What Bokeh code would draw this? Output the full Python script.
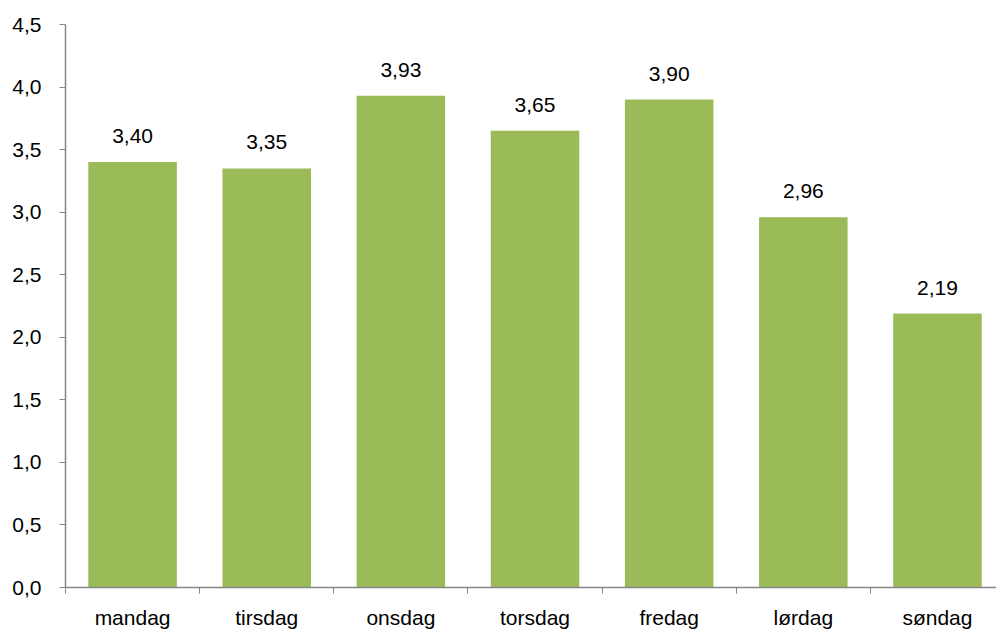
from bokeh.plotting import figure
from bokeh.models import Range1d, FixedTicker, ColumnDataSource, LabelSet
from bokeh.core.properties import value
from bokeh.embed import file_html
from bokeh.resources import INLINE

days = ["mandag", "tirsdag", "onsdag", "torsdag", "fredag", "lørdag", "søndag"]
values = [3.40, 3.35, 3.93, 3.65, 3.90, 2.96, 2.19]
yticks = [0.0, 0.5, 1.0, 1.5, 2.0, 2.5, 3.0, 3.5, 4.0, 4.5]

FONT = "Liberation Sans"
FS = "21px"
xs = [i + 0.5 for i in range(len(days))]
labels = [f"{v:.2f}".replace(".", ",") for v in values]
src = ColumnDataSource(dict(x=xs, top=values, lab=labels))

p = figure(width=996, height=633, output_backend="svg", toolbar_location=None,
           x_range=Range1d(0, 6.94), y_range=Range1d(0, 4.5),
           min_border_left=65, min_border_right=0, min_border_top=24, min_border_bottom=46)
p.outline_line_color = None
p.xgrid.grid_line_color = None
p.ygrid.grid_line_color = None

p.vbar(x="x", top="top", width=0.66, source=src, color="#9BBB59", line_color=None)
p.add_layout(LabelSet(x="x", y="top", text="lab", source=src, text_align="center",
                      text_baseline="bottom", y_offset=19, text_font=value(FONT),
                      text_font_size=value(FS), text_color="#000000"))

ax = p.xaxis[0]
ax.ticker = FixedTicker(ticks=xs, minor_ticks=list(range(0, 8)))
ax.major_label_overrides = {x: d for x, d in zip(xs, days)}
ax.major_tick_line_color = None
ax.minor_tick_in = 0
ax.minor_tick_out = 6
ax.minor_tick_line_color = "#868686"
ax.axis_line_color = "#868686"
ax.axis_line_width = 1.5
ax.major_label_text_font = FONT
ax.major_label_text_font_size = FS
ax.major_label_text_color = "#000000"
ax.major_label_standoff = 12

ay = p.yaxis[0]
ay.ticker = FixedTicker(ticks=yticks, minor_ticks=[])
ay.major_label_overrides = {t: f"{t:.1f}".replace(".", ",") for t in yticks}
ay.major_tick_in = 0
ay.major_tick_out = 6
ay.major_tick_line_color = "#868686"
ay.axis_line_color = "#868686"
ay.axis_line_width = 1.5
ay.major_label_text_font = FONT
ay.major_label_text_font_size = FS
ay.major_label_text_color = "#000000"
ay.major_label_standoff = 18

open("out.html", "w").write(file_html(p, INLINE))
